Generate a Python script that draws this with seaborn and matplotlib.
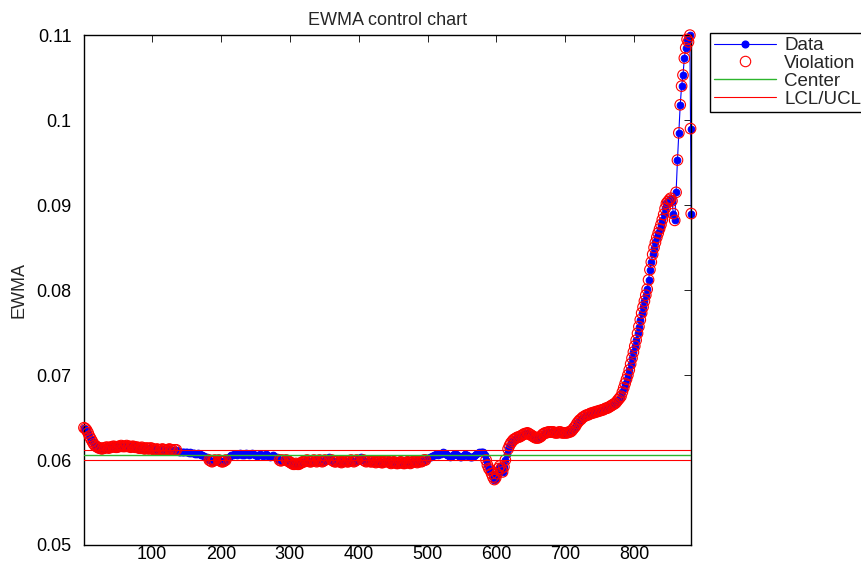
import numpy as np
import matplotlib
matplotlib.use('Agg')
import matplotlib.pyplot as plt
from matplotlib.lines import Line2D
import seaborn as sns

# EWMA values, one every 2 samples (rows of 10 = 20 samples), then the last 3 samples
ewma = [
    0.0638, 0.0637, 0.0635, 0.0632, 0.0628, 0.0625, 0.0622, 0.0619, 0.0617, 0.0616,
    0.0615, 0.0614, 0.0614, 0.0613, 0.0614, 0.0614, 0.0615, 0.0615, 0.0614, 0.0615,
    0.0615, 0.0616, 0.0616, 0.0615, 0.0615, 0.0616, 0.0616, 0.0617, 0.0616, 0.0616,
    0.0616, 0.0617, 0.0616, 0.0616, 0.0615, 0.0616, 0.0616, 0.0615, 0.0615, 0.0615,
    0.0614, 0.0614, 0.0615, 0.0614, 0.0613, 0.0614, 0.0614, 0.0613, 0.0614, 0.0614,
    0.0613, 0.0612, 0.0612, 0.0613, 0.0612, 0.0611, 0.0612, 0.0613, 0.0612, 0.0612,
    0.0611, 0.0612, 0.0613, 0.0612, 0.0612, 0.0611, 0.0612, 0.0612, 0.0611, 0.0610,
    0.0610, 0.0609, 0.0609, 0.0610, 0.0609, 0.0609, 0.0608, 0.0609, 0.0608, 0.0608,
    0.0608, 0.0607, 0.0607, 0.0608, 0.0607, 0.0606, 0.0606, 0.0605, 0.0604, 0.0603,
    0.0602, 0.0600, 0.0599, 0.0598, 0.0599, 0.0600, 0.0601, 0.0602, 0.0600, 0.0599,
    0.0598, 0.0598, 0.0599, 0.0600, 0.0602, 0.0604, 0.0605, 0.0606, 0.0606, 0.0607,
    0.0607, 0.0606, 0.0607, 0.0608, 0.0607, 0.0606, 0.0606, 0.0607, 0.0608, 0.0607,
    0.0606, 0.0607, 0.0608, 0.0607, 0.0606, 0.0606, 0.0605, 0.0606, 0.0607, 0.0606,
    0.0605, 0.0606, 0.0607, 0.0606, 0.0605, 0.0604, 0.0605, 0.0606, 0.0605, 0.0604,
    0.0603, 0.0601, 0.0600, 0.0599, 0.0600, 0.0601, 0.0602, 0.0600, 0.0599, 0.0598,
    0.0597, 0.0596, 0.0595, 0.0595, 0.0596, 0.0595, 0.0595, 0.0596, 0.0597, 0.0598,
    0.0598, 0.0599, 0.0600, 0.0599, 0.0598, 0.0598, 0.0599, 0.0600, 0.0599, 0.0598,
    0.0599, 0.0600, 0.0599, 0.0598, 0.0599, 0.0600, 0.0601, 0.0602, 0.0603, 0.0602,
    0.0600, 0.0599, 0.0598, 0.0598, 0.0599, 0.0599, 0.0598, 0.0597, 0.0598, 0.0599,
    0.0599, 0.0598, 0.0598, 0.0599, 0.0600, 0.0599, 0.0598, 0.0599, 0.0600, 0.0601,
    0.0602, 0.0603, 0.0602, 0.0600, 0.0599, 0.0598, 0.0599, 0.0599, 0.0598, 0.0598,
    0.0599, 0.0598, 0.0597, 0.0598, 0.0599, 0.0598, 0.0597, 0.0597, 0.0598, 0.0599,
    0.0599, 0.0598, 0.0597, 0.0596, 0.0597, 0.0598, 0.0597, 0.0596, 0.0596, 0.0597,
    0.0598, 0.0597, 0.0596, 0.0596, 0.0597, 0.0598, 0.0597, 0.0596, 0.0597, 0.0598,
    0.0599, 0.0598, 0.0597, 0.0598, 0.0599, 0.0598, 0.0599, 0.0600, 0.0600, 0.0601,
    0.0602, 0.0603, 0.0604, 0.0605, 0.0606, 0.0606, 0.0607, 0.0606, 0.0607, 0.0607,
    0.0608, 0.0609, 0.0608, 0.0607, 0.0606, 0.0605, 0.0604, 0.0605, 0.0606, 0.0607,
    0.0607, 0.0606, 0.0605, 0.0604, 0.0604, 0.0605, 0.0606, 0.0607, 0.0606, 0.0605,
    0.0604, 0.0603, 0.0604, 0.0605, 0.0606, 0.0607, 0.0608, 0.0609, 0.0610, 0.0610,
    0.0609, 0.0606, 0.0600, 0.0594, 0.0590, 0.0588, 0.0584, 0.0580, 0.0577, 0.0579,
    0.0584, 0.0590, 0.0593, 0.0590, 0.0586, 0.0592, 0.0600, 0.0607, 0.0613, 0.0617,
    0.0620, 0.0622, 0.0624, 0.0625, 0.0626, 0.0627, 0.0627, 0.0628, 0.0629, 0.0630,
    0.0631, 0.0631, 0.0632, 0.0631, 0.0630, 0.0629, 0.0628, 0.0627, 0.0626, 0.0626,
    0.0626, 0.0627, 0.0628, 0.0630, 0.0631, 0.0632, 0.0632, 0.0633, 0.0633, 0.0633,
    0.0633, 0.0633, 0.0632, 0.0632, 0.0632, 0.0633, 0.0633, 0.0632, 0.0632, 0.0632,
    0.0632, 0.0632, 0.0633, 0.0633, 0.0634, 0.0636, 0.0638, 0.0640, 0.0643, 0.0645,
    0.0647, 0.0648, 0.0650, 0.0651, 0.0652, 0.0653, 0.0653, 0.0654, 0.0655, 0.0655,
    0.0656, 0.0656, 0.0657, 0.0657, 0.0658, 0.0658, 0.0659, 0.0659, 0.0660, 0.0661,
    0.0661, 0.0662, 0.0663, 0.0664, 0.0665, 0.0666, 0.0667, 0.0669, 0.0671, 0.0673,
    0.0675, 0.0680, 0.0685, 0.0690, 0.0695, 0.0700, 0.0706, 0.0713, 0.0720, 0.0727,
    0.0734, 0.0741, 0.0749, 0.0757, 0.0765, 0.0773, 0.0780, 0.0787, 0.0794, 0.0801,
    0.0812, 0.0824, 0.0833, 0.0842, 0.0850, 0.0856, 0.0862, 0.0867, 0.0872, 0.0877,
    0.0883, 0.0889, 0.0896, 0.0902, 0.0904, 0.0906, 0.0908, 0.0905, 0.0890, 0.0882,
    0.0915, 0.0953, 0.0985, 0.1018, 0.1040, 0.1053, 0.1073, 0.1085, 0.1095, 0.1092,
    0.1100, 0.0990, 0.0890,
]
# sample numbers: every second sample up to 881, then 882 and 883
sample = np.r_[np.arange(1, 882, 2), 882, 883]

center = 0.0606
lcl = 0.06006
ucl = 0.06112

yticks = [0.05, 0.06, 0.07, 0.08, 0.09, 0.10, 0.11]
ytick_labels = ['0.05', '0.06', '0.07', '0.08', '0.09', '0.1', '0.11']
xticks = [100, 200, 300, 400, 500, 600, 700, 800]

ewma = np.array(ewma)
viol = (ewma > ucl) | (ewma < lcl)

sns.set_style('white')
plt.rcParams['font.family'] = ['Liberation Sans', 'DejaVu Sans']

fig = plt.figure(figsize=(8.62, 5.64), dpi=100)
ax = fig.add_axes([0.0974, 0.0337, 0.7045, 0.904])

# data line with dots
sns.lineplot(x=sample, y=ewma, color='blue', marker='o', markersize=4.8,
             markeredgecolor='blue', linewidth=0.8, clip_on=False, zorder=2, ax=ax)
# violations as open red circles
sns.scatterplot(x=sample[viol], y=ewma[viol], marker='o', s=58,
                facecolors='none', edgecolor='red', linewidth=0.8,
                clip_on=False, zorder=3, ax=ax)

ax.axhline(center, color='#2db52d', linewidth=1.0, zorder=4)
ax.axhline(lcl, color='red', linewidth=0.8, zorder=4)
ax.axhline(ucl, color='red', linewidth=0.8, zorder=4)

ax.set_xlim(1, 883)
ax.set_ylim(0.05, 0.11)
ax.set_xticks(xticks)
ax.set_yticks(yticks)
ax.set_yticklabels(ytick_labels)
ax.tick_params(direction='in', length=5, width=0.6, top=True, right=True,
               labelsize=13, colors='black')
ax.tick_params(axis='x', pad=0.5)
ax.tick_params(axis='y', pad=9)
for s in ax.spines.values():
    s.set_linewidth(1.0)
    s.set_color('black')

ax.set_title('EWMA control chart', fontsize=13, pad=7)
ax.set_ylabel('EWMA', fontsize=13, labelpad=6)

handles = [
    Line2D([], [], color='blue', marker='o', markersize=4.8, linewidth=0.8),
    Line2D([], [], color='red', marker='o', markersize=7.5, markerfacecolor='none',
           linestyle='none', markeredgewidth=0.8),
    Line2D([], [], color='#2db52d', linewidth=1.0),
    Line2D([], [], color='red', linewidth=0.8),
]
leg = fig.legend(handles, ['Data', 'Violation', 'Center', 'LCL/UCL'],
                 loc='upper left', bbox_to_anchor=(0.8237, 0.941),
                 fontsize=13.5, frameon=True, fancybox=False, framealpha=1,
                 edgecolor='black', handlelength=3.3, handletextpad=0.45,
                 labelspacing=0.04, borderpad=0.2, borderaxespad=0)
leg.get_frame().set_linewidth(1.0)

fig.savefig('out.png', dpi=100)
